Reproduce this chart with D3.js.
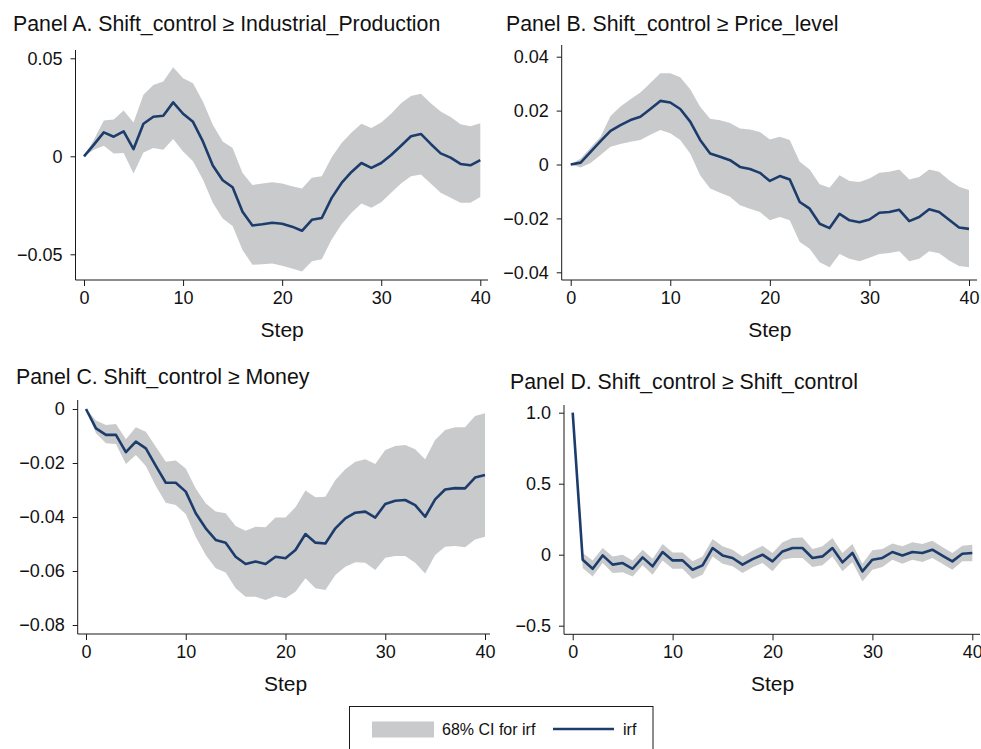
<!DOCTYPE html>
<html>
<head>
<meta charset="utf-8">
<script src="https://cdn.jsdelivr.net/npm/d3@7"></script>
<style>
  html, body { margin: 0; padding: 0; background: #fff; }
  svg { display: block; font-family: "Liberation Sans", Arial, Helvetica, sans-serif; }
</style>
</head>
<body>
<svg id="chart"></svg>
<script>
const width = 981;
const height = 749;

const steps = d3.range(0, 41);
const xTicks = [0, 10, 20, 30, 40];

// Panel A: Industrial_Production
const irfA = [0, 0.006, 0.0122, 0.010, 0.0127, 0.0037, 0.0166, 0.0202, 0.0207, 0.0275,
  0.0217, 0.0176, 0.0076, -0.0047, -0.0122, -0.0158, -0.0283, -0.0353, -0.0347, -0.0339,
  -0.0344, -0.0359, -0.038, -0.0324, -0.0315, -0.0212, -0.0136, -0.008, -0.0034, -0.0059,
  -0.0034, 0.0007, 0.0054, 0.0102, 0.0114, 0.0063, 0.0015, -0.0007, -0.0039, -0.0046, -0.0019];
const hiA = [0, 0.0085, 0.0183, 0.0188, 0.0234, 0.0173, 0.0314, 0.0364, 0.0381, 0.0454,
  0.0398, 0.0373, 0.028, 0.0161, 0.0076, 0.0042, -0.0085, -0.0147, -0.0139, -0.0132,
  -0.0139, -0.0153, -0.0164, -0.011, -0.0102, -0.0005, 0.0068, 0.0122, 0.0166, 0.0144,
  0.0173, 0.0217, 0.0271, 0.0308, 0.0319, 0.0271, 0.0229, 0.02, 0.0164, 0.0153, 0.0169];
const loA = [0, 0.0034, 0.0054, 0.0014, 0.0017, -0.0088, 0.002, 0.0042, 0.0034, 0.0088,
  0.0025, -0.0025, -0.0119, -0.0237, -0.0317, -0.0356, -0.0478, -0.0553, -0.0551, -0.0547,
  -0.0559, -0.0573, -0.0588, -0.0536, -0.0525, -0.0424, -0.0347, -0.0288, -0.0241, -0.0263,
  -0.0234, -0.0186, -0.0139, -0.0102, -0.0093, -0.0139, -0.0186, -0.0212, -0.0237, -0.0237, -0.0208];
const yTicksA = [-0.05, 0, 0.05];

// Panel B: Price_level
const irfB = [0, 0.0007, 0.0047, 0.0087, 0.0125, 0.0146, 0.0165, 0.0177, 0.0206, 0.0236,
  0.023, 0.0206, 0.0159, 0.0091, 0.0041, 0.0029, 0.0016, -0.0009, -0.0017, -0.0031,
  -0.0061, -0.0043, -0.0056, -0.0139, -0.0164, -0.022, -0.0236, -0.0183, -0.0207, -0.0214,
  -0.0204, -0.0179, -0.0176, -0.0168, -0.021, -0.0195, -0.0166, -0.0176, -0.0205, -0.0234, -0.0239];
const hiB = [0, 0.0022, 0.0063, 0.0103, 0.018, 0.0215, 0.0242, 0.0267, 0.0302, 0.0339,
  0.0339, 0.0324, 0.0279, 0.0214, 0.017, 0.0164, 0.0154, 0.0134, 0.013, 0.0121,
  0.0093, 0.0103, 0.0091, 0.001, -0.0019, -0.0073, -0.0086, -0.004, -0.0061, -0.0065,
  -0.0052, -0.0031, -0.0027, -0.0019, -0.0056, -0.0046, -0.0019, -0.0027, -0.0058, -0.0083, -0.0095];
const loB = [0, -0.0011, 0.0006, 0.0035, 0.0066, 0.0076, 0.0084, 0.0091, 0.011, 0.0128,
  0.0116, 0.0091, 0.0041, -0.004, -0.0089, -0.0105, -0.012, -0.0151, -0.0164, -0.0176,
  -0.0207, -0.0195, -0.0207, -0.0288, -0.0313, -0.0363, -0.0381, -0.0332, -0.035, -0.0359,
  -0.0346, -0.0332, -0.0328, -0.0322, -0.0359, -0.035, -0.0322, -0.0329, -0.0356, -0.0377, -0.0381];
const yTicksB = [-0.04, -0.02, 0, 0.02, 0.04];

// Panel C: Money
const irfC = [0, -0.0072, -0.0096, -0.0096, -0.016, -0.0121, -0.0146, -0.0211, -0.0273, -0.0273,
  -0.0306, -0.0386, -0.0442, -0.0485, -0.0495, -0.0547, -0.0574, -0.0565, -0.0574, -0.0547,
  -0.0553, -0.0522, -0.0463, -0.0495, -0.0498, -0.0442, -0.0405, -0.0384, -0.038, -0.0402,
  -0.0352, -0.034, -0.0337, -0.0356, -0.0399, -0.0335, -0.0298, -0.0293, -0.0294, -0.0254, -0.0244];
const hiC = [0, -0.0043, -0.0059, -0.0056, -0.0112, -0.0068, -0.0084, -0.014, -0.0195, -0.0191,
  -0.022, -0.0294, -0.0349, -0.038, -0.0386, -0.0433, -0.0451, -0.0436, -0.0438, -0.0402,
  -0.0402, -0.0364, -0.0302, -0.0327, -0.0325, -0.0263, -0.0223, -0.0195, -0.0186, -0.0204,
  -0.0152, -0.0137, -0.0133, -0.0149, -0.0186, -0.0115, -0.0078, -0.0068, -0.0068, -0.0026, -0.0016];
const loC = [0, -0.009, -0.0127, -0.013, -0.0204, -0.017, -0.0211, -0.0285, -0.0347, -0.0356,
  -0.0389, -0.0473, -0.0541, -0.059, -0.0606, -0.0664, -0.0695, -0.0695, -0.0707, -0.0693,
  -0.0701, -0.0677, -0.0627, -0.0664, -0.067, -0.0615, -0.0584, -0.0568, -0.0569, -0.0596,
  -0.0551, -0.0544, -0.0544, -0.0569, -0.0609, -0.0541, -0.051, -0.0507, -0.0512, -0.0483, -0.0473];
const yTicksC = [-0.08, -0.06, -0.04, -0.02, 0];

// Panel D: Shift_control
const irfD = [1.0, -0.035, -0.099, -0.005, -0.07, -0.059, -0.099, -0.019, -0.082, 0.019,
  -0.04, -0.04, -0.106, -0.075, 0.047, -0.005, -0.023, -0.07, -0.031, 0.0,
  -0.047, 0.023, 0.047, 0.047, -0.023, -0.012, 0.047, -0.054, 0.012, -0.117,
  -0.035, -0.023, 0.019, -0.005, 0.019, 0.012, 0.035, -0.007, -0.047, 0.007, 0.012];
const hiD = [1.0, 0.012, -0.04, 0.047, -0.012, 0.0, -0.04, 0.035, -0.028, 0.075,
  0.016, 0.016, -0.047, -0.012, 0.11, 0.059, 0.035, -0.012, 0.028, 0.063,
  0.012, 0.087, 0.117, 0.122, 0.04, 0.059, 0.117, 0.012, 0.075, -0.063,
  0.031, 0.04, 0.078, 0.059, 0.087, 0.075, 0.099, 0.054, 0.012, 0.063, 0.07];
const loD = [1.0, -0.094, -0.153, -0.059, -0.129, -0.124, -0.153, -0.075, -0.141, -0.04,
  -0.099, -0.099, -0.171, -0.141, -0.012, -0.063, -0.082, -0.129, -0.089, -0.059,
  -0.117, -0.035, -0.023, -0.023, -0.087, -0.075, -0.012, -0.117, -0.054, -0.188,
  -0.106, -0.087, -0.035, -0.063, -0.035, -0.052, -0.023, -0.063, -0.106, -0.047, -0.047];
const yTicksD = [-0.5, 0, 0.5, 1.0];

const bandColor = "#c9cacc";
const lineColor = "#1c3c6c";
const axisColor = "#1a1a1a";

const svg = d3.select("#chart")
    .attr("width", width)
    .attr("height", height)
    .attr("viewBox", [0, 0, width, height]);

const minus = s => s.replace("-", "\u2212");

function panel(opt) {
    const x = d3.scaleLinear().domain([0, 40]).range([opt.x0, opt.x40]);
    const y = d3.scaleLinear().domain([opt.yLo, opt.yHi]).range([opt.pyLo, opt.pyHi]);
    const g = svg.append("g");

    // title
    g.append("text")
        .attr("x", opt.titleX)
        .attr("y", opt.titleY)
        .style("font-size", "21.3px")
        .attr("fill", "#111")
        .text(opt.title);

    const area = d3.area()
        .x((d, i) => x(steps[i]))
        .y0((d, i) => y(opt.lo[i]))
        .y1((d, i) => y(opt.hi[i]));
    g.append("path")
        .datum(opt.hi)
        .attr("fill", bandColor)
        .attr("d", area);

    const line = d3.line()
        .x((d, i) => x(steps[i]))
        .y(d => y(d));
    g.append("path")
        .datum(opt.irf)
        .attr("fill", "none")
        .attr("stroke", lineColor)
        .attr("stroke-width", 2.6)
        .attr("stroke-linejoin", "round")
        .attr("d", line);

    // axes
    const gy = g.append("g")
        .attr("transform", `translate(${opt.left},0)`)
        .call(d3.axisLeft(y).tickValues(opt.yTicks).tickSize(5).tickPadding(8)
            .tickFormat(d => minus(opt.fmt(d))));
    gy.select(".domain").remove();
    gy.append("line")
        .attr("x1", 0).attr("x2", 0)
        .attr("y1", opt.top).attr("y2", opt.bottom)
        .attr("stroke", axisColor);

    const gx = g.append("g")
        .attr("transform", `translate(0,${opt.bottom})`)
        .call(d3.axisBottom(x).tickValues(xTicks).tickSize(6).tickPadding(5));
    gx.select(".domain").remove();
    gx.append("line")
        .attr("x1", opt.left).attr("x2", opt.right)
        .attr("y1", 0).attr("y2", 0)
        .attr("stroke", axisColor);

    [gx, gy].forEach(a => {
        a.selectAll(".tick line").attr("stroke", axisColor);
        a.selectAll(".tick text")
            .attr("fill", "#111")
            .style("font-size", "18px")
            .style("font-family", "'Liberation Sans', Arial, sans-serif");
    });

    g.append("text")
        .attr("x", (opt.x0 + opt.x40) / 2)
        .attr("y", opt.bottom + 57)
        .attr("text-anchor", "middle")
        .attr("fill", "#111")
        .style("font-size", "21px")
        .text("Step");
}

const fmtPlain = d => d === 0 ? "0" : String(d);

panel({
    title: "Panel A. Shift_control \u2265 Industrial_Production", titleX: 13, titleY: 31,
    irf: irfA, lo: loA, hi: hiA, yTicks: yTicksA, fmt: fmtPlain,
    x0: 84, x40: 480.3, left: 75.5, right: 488, top: 50, bottom: 280,
    yLo: -0.05, yHi: 0.05, pyLo: 254.3, pyHi: 58.3
});
panel({
    title: "Panel B. Shift_control \u2265 Price_level", titleX: 506, titleY: 31,
    irf: irfB, lo: loB, hi: hiB, yTicks: yTicksB, fmt: fmtPlain,
    x0: 570.7, x40: 969, left: 561.7, right: 977, top: 45, bottom: 280,
    yLo: -0.04, yHi: 0.04, pyLo: 272.3, pyHi: 56.7
});
panel({
    title: "Panel C. Shift_control \u2265 Money", titleX: 16, titleY: 384,
    irf: irfC, lo: loC, hi: hiC, yTicks: yTicksC, fmt: fmtPlain,
    x0: 86, x40: 485, left: 77.7, right: 490, top: 400, bottom: 634,
    yLo: -0.08, yHi: 0, pyLo: 625, pyHi: 409
});
panel({
    title: "Panel D. Shift_control \u2265 Shift_control", titleX: 510, titleY: 389,
    irf: irfD, lo: loD, hi: hiD, yTicks: yTicksD, fmt: d => d === 0 ? "0" : d3.format(".1f")(d),
    x0: 572.7, x40: 972.3, left: 564, right: 980, top: 405, bottom: 634.3,
    yLo: -0.5, yHi: 1.0, pyLo: 625.7, pyHi: 412.7
});

// legend
const legend = svg.append("g");
legend.append("rect")
    .attr("x", 349.5).attr("y", 706.5)
    .attr("width", 303.5).attr("height", 60)
    .attr("fill", "#fff")
    .attr("stroke", axisColor);
legend.append("rect")
    .attr("x", 372).attr("y", 721.5)
    .attr("width", 62).attr("height", 16)
    .attr("fill", bandColor);
legend.append("text")
    .attr("x", 442).attr("y", 735)
    .attr("fill", "#111")
    .style("font-size", "16px")
    .text("68% CI for irf");
legend.append("line")
    .attr("x1", 553).attr("x2", 614)
    .attr("y1", 729).attr("y2", 729)
    .attr("stroke", lineColor)
    .attr("stroke-width", 2.6);
legend.append("text")
    .attr("x", 623).attr("y", 735)
    .attr("fill", "#111")
    .style("font-size", "16px")
    .text("irf");
</script>
</body>
</html>
